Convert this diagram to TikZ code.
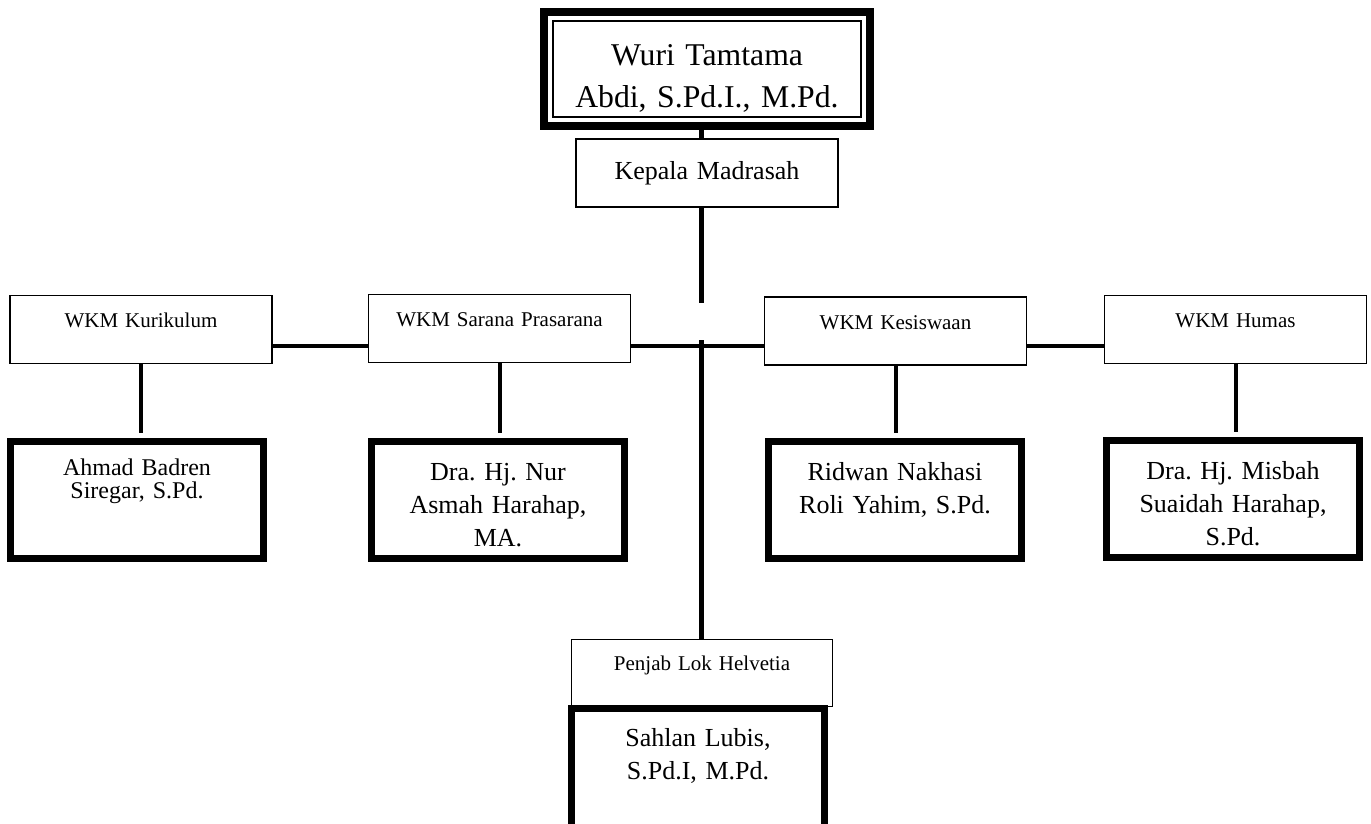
\documentclass[tikz,border=0pt]{standalone}
\usepackage{fontspec}
\setmainfont{Liberation Serif}
\frenchspacing

\begin{document}
\begin{tikzpicture}[x=1pt, y=-1pt,
  every node/.style={inner sep=0pt, outer sep=0pt, align=center, anchor=north west},
  rl/.style={draw, line width=1.5pt, text width=262pt, text height=32pt, text depth=36pt, font=\fontsize{21}{25}\selectfont},
  ps/.style={draw, line width=7pt, text width=253pt, text height=39pt, text depth=78pt, font=\fontsize{26}{33}\selectfont},
  ln/.style={line width=4pt}]
\useasboundingbox (0,0) rectangle (1371,823);
\node[draw, line width=8pt, text width=326pt, text height=53pt, text depth=61pt, font=\fontsize{31.7}{42}\selectfont] (top) at (544,12) {Wuri Tamtama\\Abdi, S.Pd.I., M.Pd.};
\draw[line width=2pt] ([shift={(9,9)}]top.north west) rectangle ([shift={(-9,-9)}]top.south east);
\node[rl, text height=40pt, text depth=28pt, font=\fontsize{26}{30}\selectfont] (kep) at (576,139) {Kepala Madrasah};
\node[rl] (kur) at (10,295.5) {WKM Kurikulum};
\node[rl] (sar) at (368.5,294.5) {WKM Sarana Prasarana};
\node[rl] (kes) at (764.5,297) {WKM Kesiswaan};
\node[rl] (hum) at (1104.5,295.5) {WKM Humas};
\node[rl, text width=261pt, text height=31pt] (pen) at (571.5,639.5) {Penjab Lok Helvetia};
\node[ps, font=\fontsize{24}{23}\selectfont, text height=34pt, text depth=83pt] (ahm) at (10.5,441.5) {Ahmad Badren\\Siregar, S.Pd.};
\node[ps] (nur) at (371.5,441.5) {Dra. Hj. Nur\\Asmah Harahap,\\MA.};
\node[ps] (rid) at (768.5,441.5) {Ridwan Nakhasi\\Roli Yahim, S.Pd.};
\node[ps] (mis) at (1106.5,440.5) {Dra. Hj. Misbah\\Suaidah Harahap,\\S.Pd.};
\node[ps, text height=37.5pt, text depth=130pt] (sah) at (571.5,708.5) {Sahlan Lubis,\\S.Pd.I, M.Pd.};
% spine and bar
\coordinate (spine) at (701,0);
\coordinate (hbar) at (0,346);
\coordinate (gapA) at (701,303);
\coordinate (gapB) at (701,340);
\draw[line width=5pt] (spine |- top.south) -- (spine |- kep.north);
\draw[line width=5pt] (spine |- kep.south) -- (gapA);
\draw[line width=5pt] (gapB) -- (spine |- pen.north);
\draw[ln] (kur.east |- hbar) -- (sar.west |- hbar);
\draw[ln] (sar.east |- hbar) -- (kes.west |- hbar);
\draw[ln] (kes.east |- hbar) -- (hum.west |- hbar);
\draw[ln, shorten >=9pt] (kur.south) -- (kur.south |- ahm.north);
\draw[ln, shorten >=9pt] (sar.south) -- (sar.south |- nur.north);
\draw[ln, shorten >=9pt] (kes.south) -- (kes.south |- rid.north);
\draw[ln, shorten >=9pt] (hum.south) -- (hum.south |- mis.north);
\end{tikzpicture}
\end{document}
